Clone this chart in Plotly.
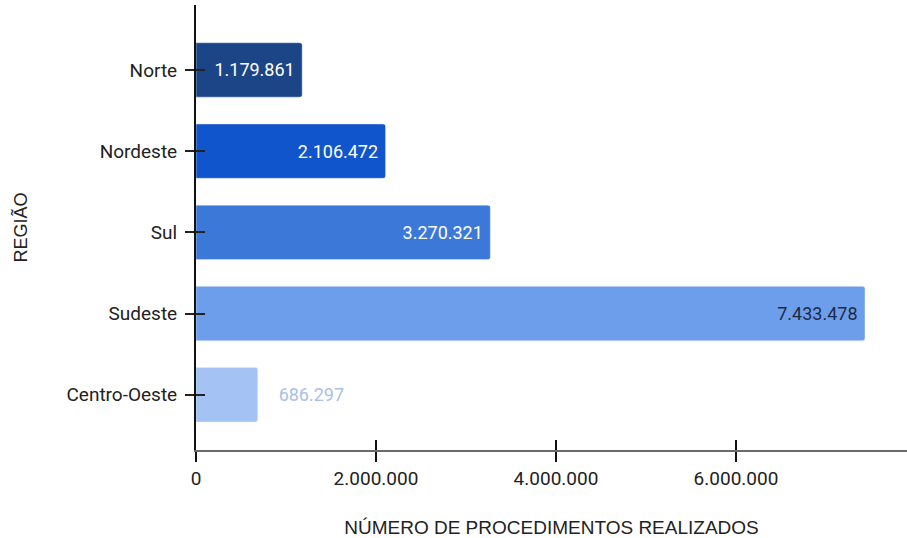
import plotly.graph_objects as go

regioes = ["Norte", "Nordeste", "Sul", "Sudeste", "Centro-Oeste"]
procedimentos = [1179861, 2106472, 3270321, 7433478, 686297]
cores = ["#1c4587", "#1155cc", "#3c78d8", "#6d9eeb", "#a4c2f4"]
cores_texto = ["#ffffff", "#ffffff", "#ffffff", "#1f2a44", "#a9c0e8"]
posicoes = ["inside", "inside", "inside", "inside", "outside"]
modelos = ["%{x:,.0f}\u00a0", "%{x:,.0f}\u00a0", "%{x:,.0f}\u00a0", "%{x:,.0f}\u00a0",
           "\u00a0\u00a0\u00a0\u00a0%{x:,.0f}"]
x_ticks = [0, 2000000, 4000000, 6000000]

fig = go.Figure()
fig.add_trace(go.Bar(
    y=regioes, x=procedimentos, orientation="h",
    marker=dict(color=cores, line=dict(width=0), cornerradius=3),
    width=0.67,
    textposition=posicoes, texttemplate=modelos,
    insidetextanchor="end",
    textfont=dict(family="Roboto", size=18, color=cores_texto),
    cliponaxis=False, hoverinfo="skip",
))
# invisible copy to draw inward ticks so they cross the axis lines
fig.add_trace(go.Bar(
    y=regioes, x=procedimentos, orientation="h", xaxis="x2", yaxis="y2",
    marker=dict(color="rgba(0,0,0,0)"), width=0.67, hoverinfo="skip", showlegend=False,
))

yr = [4.68, -0.80]
xr = [0, 7900000]

fig.update_layout(
    width=907, height=538,
    margin=dict(l=196, r=0, t=5, b=88),
    paper_bgcolor="white", plot_bgcolor="white",
    separators=",.",
    showlegend=False,
    bargap=0.33,
    xaxis=dict(
        range=xr, tickvals=x_ticks, tickformat=",.0f",
        showgrid=False, zeroline=False,
        showline=True, linecolor="#6a6a6a", linewidth=2,
        ticks="outside", ticklen=10, tickwidth=2, tickcolor="#111",
        tickfont=dict(family="Roboto", size=19, color="#222"),
        title=dict(text="NÚMERO DE PROCEDIMENTOS REALIZADOS",
                   font=dict(family="Liberation Sans", size=19, color="#222"),
                   standoff=34),
        automargin=False,
        fixedrange=True,
    ),
    yaxis=dict(
        categoryorder="array", categoryarray=regioes,
        range=yr,
        showgrid=False, zeroline=False,
        showline=True, linecolor="#111", linewidth=2,
        ticks="outside", ticklen=9, tickwidth=2, tickcolor="#222",
        ticklabelstandoff=4,
        tickfont=dict(family="Roboto", size=19, color="#222"),
        title=dict(text="REGIÃO",
                   font=dict(family="Liberation Sans", size=18, color="#222"),
                   standoff=34),
        automargin=False,
        fixedrange=True,
    ),
    xaxis2=dict(
        overlaying="x", anchor="y2", matches="x", range=xr, tickvals=x_ticks[1:],
        showticklabels=False, showgrid=False, zeroline=False, showline=False,
        ticks="inside", ticklen=10, tickwidth=2, tickcolor="#111",
    ),
    yaxis2=dict(
        overlaying="y", anchor="x2", categoryorder="array", categoryarray=regioes,
        range=yr, showticklabels=False, showgrid=False, zeroline=False, showline=False,
        ticks="inside", ticklen=9, tickwidth=2, tickcolor="#222",
    ),
)

fig.write_html("out.html", config={"displayModeBar": False, "staticPlot": True},
               post_script="document.body.style.margin='0px';")
